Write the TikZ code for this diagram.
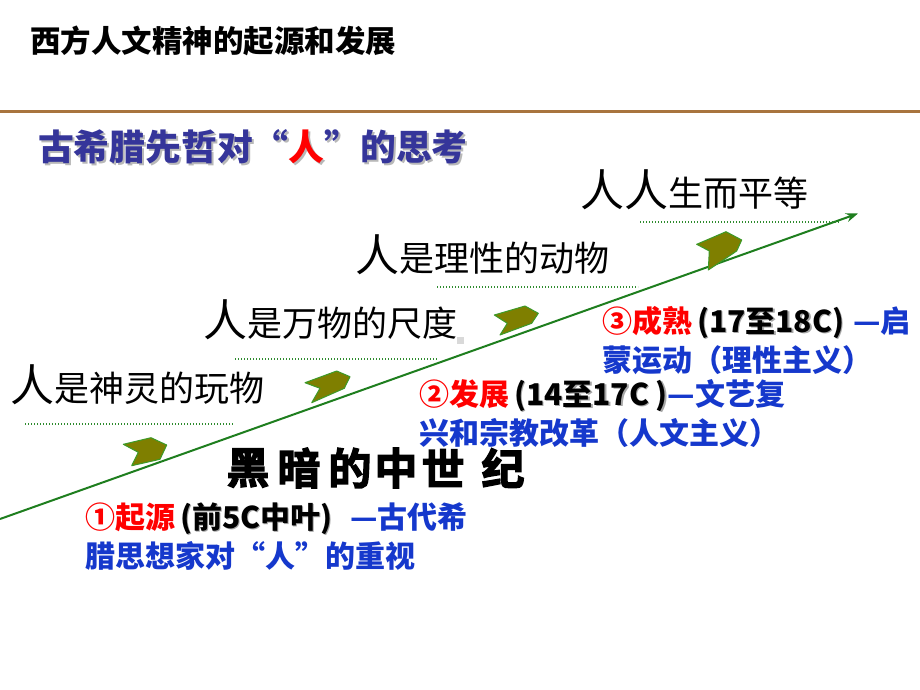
\documentclass[tikz,border=0pt]{standalone}
\usepackage{fontspec}
\setmainfont{Noto Sans CJK SC}
\newfontfamily\heavyfont[FakeBold=3]{Noto Sans CJK SC Bold}
\usetikzlibrary{arrows.meta}
\definecolor{brownline}{HTML}{A8743E}
\definecolor{subblue}{HTML}{35359A}
\definecolor{tblue}{HTML}{1538CC}
\definecolor{lgreen}{HTML}{1E7E1E}
\definecolor{dgreen}{HTML}{2E8B2E}
\definecolor{olivef}{HTML}{7F7F00}
\definecolor{oliveb}{HTML}{3C9A28}
\newcommand{\shd}[1]{\makebox[0pt][l]{\hspace{1.5pt}\raisebox{-1.5pt}{\textcolor{black!35}{#1}}}\textcolor{black}{#1}}
\newcommand{\bigren}{{\fontsize{44}{44}\selectfont 人}}
\begin{document}
\begin{tikzpicture}[x=1pt,y=-1pt,
  every node/.style={inner sep=0pt, outer sep=0pt},
  titlefont/.style={font=\fontsize{30.5}{30.5}\selectfont\bfseries},
  subfont/.style={font=\fontsize{35.8}{35.8}\selectfont\bfseries},
  idea/.style={anchor=base west, font=\fontsize{35}{35}\selectfont},
  blk/.style={anchor=west, text=tblue, font=\fontsize{30}{30}\selectfont\bfseries},
  dotline/.style={dgreen, line width=1.4pt, dash pattern=on 1.4pt off 1.6pt},
  chev/.style={fill=olivef, draw=oliveb, line width=1pt, line join=round},
  callig/.style={font=\fontsize{43}{43}\selectfont\heavyfont}
]
\useasboundingbox[fill=white] (0,0) rectangle (920,690);

% title and rule
\node[titlefont, anchor=west] (title) at (30,41) {西方人文精神的起源和发展};
\coordinate (ruleL) at (0,112);
\coordinate (ruleR) at (920,112);
\draw[brownline, line width=3pt] (ruleL) -- (ruleR);

% subtitle with shadow
\node[subfont, anchor=west, text=subblue] (sub) at (38,147.5)
  {\makebox[0pt][l]{\hspace{2pt}\raisebox{-2pt}{\textcolor{black!28}{古希腊先哲对“人”的思考}}}古希腊先哲对“\textcolor{red}{人}”的思考};

% main arrow
\coordinate (arrS) at (0,519);
\coordinate (arrE) at (858,213.5);
\draw[lgreen, line width=2pt, -{Stealth[length=12pt,width=9pt]}] (arrS) -- (arrE);

% dotted lines
\coordinate (d1a) at (25,424);  \coordinate (d1b) at (233,424);
\coordinate (d2a) at (235,359); \coordinate (d2b) at (437,359);
\coordinate (d3a) at (437,287); \coordinate (d3b) at (638,287);
\coordinate (d4a) at (640,222); \coordinate (d4b) at (840,222);
\draw[dotline] (d1a) -- (d1b);
\draw[dotline] (d2a) -- (d2b);
\draw[dotline] (d3a) -- (d3b);
\draw[dotline] (d4a) -- (d4b);

% ideas
\node[idea] (i1) at (10,401) {\bigren 是神灵的玩物};
\node[idea] (i2) at (203,336) {\bigren 是万物的尺度};
\node[idea] (i3) at (355,271) {\bigren 是理性的动物};
\node[idea] (i4) at (580,206) {\bigren\bigren 生而平等};
\fill[black!15] (457,337) rectangle (464,344);

% chevrons
\draw[chev] (123.3,444.3) -- (151,437.7) -- (166.7,445) -- (160,459.3) -- (131.7,465.7) -- (138.3,452.3) -- cycle;
\draw[chev] (305,382.7) -- (336.7,371) -- (350,376.7) -- (344.3,388.3) -- (311.7,402.7) -- (320,388.3) -- cycle;
\draw[chev] (494.3,315) -- (525,306) -- (538.3,313.3) -- (531.7,323.3) -- (500,335) -- (507.3,323.3) -- cycle;
\draw[chev] (696.7,244.3) -- (726,231.7) -- (741.7,240) -- (736.7,251) -- (708.3,270) -- (709.3,251) -- cycle;

% dark middle ages
\node[callig] (c1) at (248,468) {黑};
\node[callig] (c2) at (299,468) {暗};
\node[callig] (c3) at (350,468) {的};
\node[callig] (c4) at (396,468) {中};
\node[callig] (c5) at (443,468) {世};
\node[callig] (c6) at (503,468) {纪};

% stage texts
\node[blk] (b1a) at (85,519) {\textcolor{red}{①起源}\,\shd{(前5C中叶)}\hspace{18pt}—古代希};
\node[blk] (b1b) at (85,556) {腊思想家对“人”的重视};
\node[blk] (b2a) at (419,396) {\textcolor{red}{②发展}\,\shd{(14至17C\ )}—文艺复};
\node[blk] (b2b) at (419,433) {兴和宗教改革（人文主义）};
\node[blk] (b3a) at (602,323) {\textcolor{red}{③成熟}\,\shd{(17至18C)}\hspace{9pt}—启};
\node[blk] (b3b) at (602,360) {蒙运动（理性主义）};
\end{tikzpicture}
\end{document}
